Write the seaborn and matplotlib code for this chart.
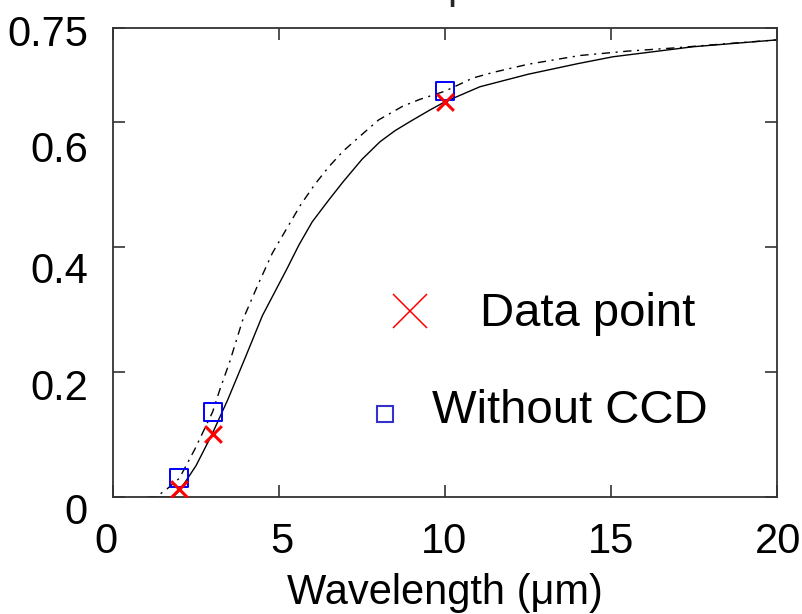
import matplotlib
matplotlib.use("Agg")
import matplotlib.pyplot as plt
from matplotlib.transforms import ScaledTranslation
import pandas as pd
import seaborn as sns

# Model curve (solid)
wl_model = [1.05, 1.80, 2.00, 2.50, 2.98, 3.46, 4.00, 4.50, 5.24, 5.60, 6.00, 6.50, 6.93,
            7.50, 8.04, 8.50, 9.00, 9.55, 10.00, 11.05, 12.50, 14.00, 15.06, 17.47, 20.00]
eff_model = [0.000, 0.000, 0.010, 0.050, 0.100, 0.156, 0.225, 0.290, 0.365, 0.403, 0.440,
             0.475, 0.504, 0.540, 0.568, 0.586, 0.602, 0.619, 0.632, 0.656, 0.676, 0.693,
             0.704, 0.720, 0.731]

# Model curve without CCD (dash-dot)
wl_noccd = [1.05, 1.30, 1.63, 2.00, 2.47, 3.00, 3.22, 3.52, 3.90, 4.37, 4.80, 5.24, 5.65,
            6.08, 6.50, 6.93, 7.44, 8.00, 8.73, 9.25, 10.00, 10.84, 11.45, 12.50, 14.06,
            15.50, 16.87, 18.50, 20.00]
eff_noccd = [0.000, 0.000, 0.013, 0.030, 0.077, 0.136, 0.172, 0.217, 0.282, 0.340, 0.390,
             0.430, 0.467, 0.500, 0.528, 0.553, 0.577, 0.603, 0.625, 0.636, 0.649, 0.670,
             0.679, 0.692, 0.706, 0.713, 0.718, 0.725, 0.731]

# Measured points
wl_points = [2, 3, 10]
data_point = [0.013, 0.100, 0.632]
without_ccd = [0.030, 0.136, 0.649]

x_ticks = [0, 5, 10, 15, 20]
y_ticks = [0, 0.2, 0.4, 0.6, 0.75]
y_ticklabels = ["0", "0.2", "0.4", "0.6", "0.75"]
x_label = "Wavelength (\u03bcm)"
legend_labels = ["Data point", "Without CCD"]

sns.set_theme(style="ticks")
plt.rcParams["font.family"] = ["Liberation Sans", "DejaVu Sans"]

fig = plt.figure(figsize=(8.03, 6.14), dpi=100)
ax = fig.add_axes([113 / 803, 1 - 497 / 614, 664 / 803, 469 / 614])

model_df = pd.DataFrame({"wl": wl_model, "eff": eff_model})
noccd_df = pd.DataFrame({"wl": wl_noccd, "eff": eff_noccd})
pts_df = pd.DataFrame({"wl": wl_points, "data": data_point, "noccd": without_ccd})

sns.lineplot(data=model_df, x="wl", y="eff", ax=ax, color="black", linewidth=1.0,
             sort=False, estimator=None)
sns.lineplot(data=noccd_df, x="wl", y="eff", ax=ax, color="black", linewidth=1.0,
             sort=False, estimator=None, dashes=False, linestyle=(0, (6, 4, 1.5, 4)))

sns.scatterplot(data=pts_df, x="wl", y="noccd", ax=ax, marker="s", s=13 ** 2,
                facecolors="none", edgecolors="#0000ff", linewidth=1.4, zorder=4)
sns.scatterplot(data=pts_df, x="wl", y="data", ax=ax, marker="x", s=12 ** 2,
                color="#ff0000", linewidth=2.2, zorder=5)

ax.set_xlim(0, 20)
ax.set_ylim(0, 0.75)
ax.set_xticks(x_ticks)
ax.set_xticklabels([str(v) for v in x_ticks])
ax.set_yticks(y_ticks)
ax.set_yticklabels(y_ticklabels)
ax.set_xlabel(x_label, fontsize=30, labelpad=8, color="black")
ax.set_ylabel("")

for side in ["left", "right", "top", "bottom"]:
    ax.spines[side].set_visible(True)
    ax.spines[side].set_color("#333333")
    ax.spines[side].set_linewidth(1.3)

ax.tick_params(axis="both", which="major", direction="in", length=8.6, width=1.2,
               color="#333333", labelsize=30, pad=18, top=True, right=True,
               bottom=True, left=True, labeltop=False, labelright=False,
               labelbottom=True, labelleft=True, labelcolor="black")

# individual vertical nudges of the y tick labels (points, downward)
y_shifts = [8, 9, 15, 18, 2]
for lab, dy in zip(ax.get_yticklabels(), y_shifts):
    lab.set_transform(lab.get_transform() + ScaledTranslation(0, -dy / 72, fig.dpi_scale_trans))
x_shifts = [-5, 2, -1, 0, 1]
for lab, dx in zip(ax.get_xticklabels(), x_shifts):
    lab.set_transform(lab.get_transform() + ScaledTranslation(dx / 72, 0, fig.dpi_scale_trans))

# hand-placed legend
ax.plot([0.447], [0.397], transform=ax.transAxes, marker="x", markersize=25,
        markeredgewidth=1.1, color="#ff0000", linestyle="none")
ax.text(0.553, 0.390, legend_labels[0], transform=ax.transAxes, fontsize=34,
        ha="left", va="center", color="black")
ax.plot([0.410], [0.177], transform=ax.transAxes, marker="s", markersize=11,
        markeredgewidth=1.5, markeredgecolor="#3333cc", markerfacecolor="none",
        linestyle="none")
ax.text(0.480, 0.183, legend_labels[1], transform=ax.transAxes, fontsize=34,
        ha="left", va="center", color="black")

# clipped heading above the frame
fig.text(447 / 803, 1 + 2 / 614, "p", fontsize=30, ha="left", va="baseline")

fig.savefig("out.png", dpi=100)
